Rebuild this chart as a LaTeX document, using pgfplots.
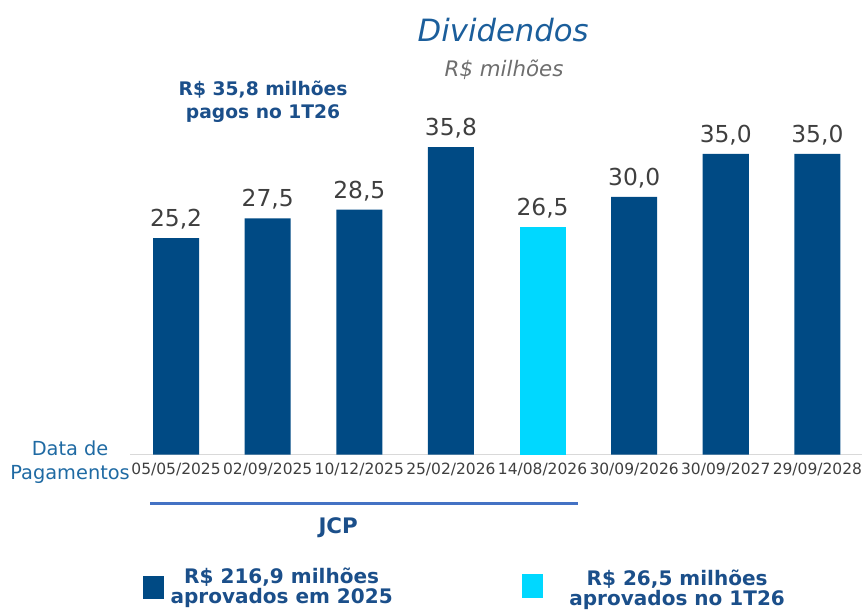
\documentclass[border=0pt]{standalone}
\usepackage{pgfplots}
\pgfplotsset{compat=1.18}
\usepackage{fontspec}
\setmainfont{DejaVu Sans}
\definecolor{barblue}{HTML}{004A84}
\definecolor{barcyan}{HTML}{00D8FF}
\definecolor{titleblue}{HTML}{1B5E9B}
\definecolor{darktext}{HTML}{1B4F8A}
\definecolor{midblue}{HTML}{1F6AA3}
\definecolor{valgrey}{HTML}{3F3F3F}
\definecolor{subgrey}{HTML}{6E6E6E}
\definecolor{linegrey}{HTML}{D9D9D9}
\definecolor{jcpline}{HTML}{4472C4}
\begin{document}
\begin{tikzpicture}
\begin{axis}[
  scale only axis, width=549pt, height=289.6pt,
  xmin=-0.5, xmax=7.5, ymin=0, ymax=45,
  axis x line*=bottom, axis y line=none,
  x axis line style={draw=linegrey, line width=1.2pt, -},
  xtick={0,...,7},
  xticklabels={05/05/2025,02/09/2025,10/12/2025,25/02/2026,14/08/2026,30/09/2026,30/09/2027,29/09/2028},
  xtick style={draw=none}, major tick length=0pt,
  xticklabel style={font=\fontsize{11.6}{12}\selectfont, text=valgrey, yshift=-3pt},
  ytick=\empty,
  ybar, bar width=34.5pt, bar shift=0pt,
  clip=false,
  nodes near coords={\pgfmathprintnumber[fixed,fixed zerofill,precision=1,use comma,assume math mode=true]{\pgfplotspointmeta}},
  every node near coord/.append style={font=\fontsize{17.5}{18}\selectfont, text=valgrey, inner sep=2pt, yshift=4.5pt},
]
\addplot[fill=barblue, draw=none] coordinates {(0,25.2) (1,27.5) (2,28.5) (3,35.8) (5,30.0) (6,35.0) (7,35.0)};
\addplot[fill=barcyan, draw=none] coordinates {(4,26.5)};

\node[font=\fontsize{23}{26}\selectfont\itshape, text=titleblue] at (axis cs:3.57,49.42) {Dividendos};
\node[font=\fontsize{16}{18}\selectfont\itshape, text=subgrey] at (axis cs:3.58,44.75) {R\$ milhões};
\node[font=\bfseries\fontsize{14}{17.5}\selectfont, text=darktext, align=center] at (axis cs:0.95,41.08) {R\$ 35,8 milhões\\pagos no 1T26};
\node[font=\fontsize{14.5}{18}\selectfont, text=midblue, align=center] at (axis cs:-1.157,-0.93) {Data de\\Pagamentos};

\draw[jcpline, line width=2.4pt] (axis cs:-0.284,-5.71) -- (axis cs:4.389,-5.71);
\node[font=\bfseries\fontsize{16}{17}\selectfont, text=darktext] at (axis cs:1.769,-8.51) {JCP};

\fill[barblue] (axis cs:-0.361,-14.10) rectangle (axis cs:-0.132,-16.78);
\node[font=\bfseries\fontsize{15}{15}\selectfont, text=darktext, align=center] at (axis cs:1.152,-15.5) {R\$ 216,9 milhões\\aprovados em 2025};
\fill[barcyan] (axis cs:3.777,-13.87) rectangle (axis cs:4.006,-16.67);
\node[font=\bfseries\fontsize{15}{15}\selectfont, text=darktext, align=center] at (axis cs:5.469,-15.75) {R\$ 26,5 milhões\\aprovados no 1T26};

\coordinate (bbbl) at (axis cs:-1.922,-18.41);
\coordinate (bbtr) at (axis cs:7.487,52.91);
\end{axis}
\pgfresetboundingbox
\path[use as bounding box] (bbbl) rectangle (bbtr);
\end{tikzpicture}
\end{document}
